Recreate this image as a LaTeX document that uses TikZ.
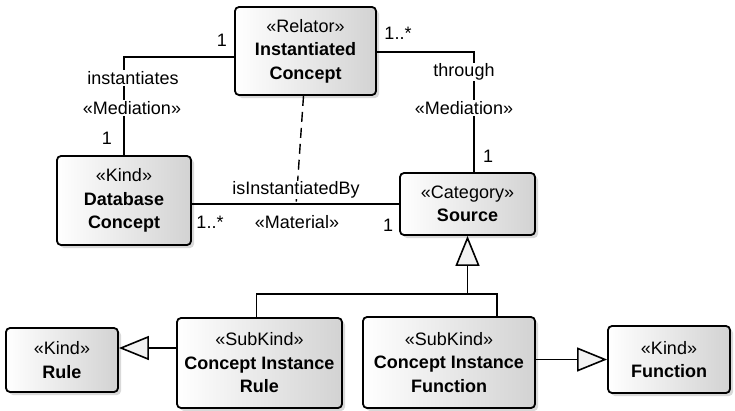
\documentclass[tikz,border=0pt]{standalone}
\usepackage{fontspec}
\setmainfont{Liberation Sans}
\usetikzlibrary{arrows.meta, shadows, positioning}

\begin{document}
\begin{tikzpicture}[x=1pt, y=-1pt, line width=1.6pt,
		every node/.style={font=\fontsize{18}{23.5}\selectfont},
		umlclass/.style={draw, line width=1.8pt, rounded corners=4pt, align=center, inner sep=1pt,
			left color=white, right color=gray!35,
			drop shadow={opacity=0.3, shadow xshift=3pt, shadow yshift=-3pt}},
		tag/.style={fill=white, inner sep=1pt},
		gen/.style={-{Triangle[length=30pt, width=24pt, fill=gray!10]}}]
		\useasboundingbox (0,0) rectangle (735,410);
		
		\node[umlclass, minimum width=141pt, minimum height=88pt] (relator) at (305.5,51) {«Relator»\\\textbf{Instantiated}\\\textbf{Concept}};
		\node[umlclass, minimum width=134pt, minimum height=89pt] (dbconcept) at (124,200.5) {«Kind»\\\textbf{Database}\\\textbf{Concept}};
		\node[umlclass, minimum width=135pt, minimum height=62pt] (source) at (467.5,204) {«Category»\\\textbf{Source}};
		\node[umlclass, minimum width=112pt, minimum height=64pt] (rule) at (62,360) {«Kind»\\\textbf{Rule}};
		\node[umlclass, minimum width=165pt, minimum height=90pt] (cirule) at (259.5,363) {«SubKind»\\\textbf{Concept Instance}\\\textbf{Rule}};
		\node[umlclass, minimum width=172pt, minimum height=91pt] (cifunc) at (449,362.5) {«SubKind»\\\textbf{Concept Instance}\\\textbf{Function}};
		\node[umlclass, minimum width=122pt, minimum height=67pt] (function) at (669,359.5) {«Kind»\\\textbf{Function}};
		
		% mediations
		\draw ([yshift=-6pt]relator.west) -| (dbconcept.north);
		\draw ([yshift=-1pt]relator.east) -| ([xshift=6.5pt]source.north);
		\node[tag] (instantiates) at (133,78) {instantiates};
		\node[tag] (medleft) at (132,108) {«Mediation»};
		\node (multrel) at (222,40) {1};
		\node (multdb) at (107,138) {1};
		\node[tag] (through) at (464,72) {through};
		\node[tag] (medright) at (464,108) {«Mediation»};
		\node (multrelr) at (398,33) {1..*};
		\node (multsrc) at (488,156) {1};
		
		% material
		\draw (dbconcept.east |- source.west) -- (source.west);
		\coordinate (isby) at ([xshift=-103pt]source.west);
		\draw[dash pattern=on 10pt off 6pt, line width=1.4pt] ([xshift=-2pt]relator.south) -- (isby);
		\node[tag] (isinst) at (296,190) {isInstantiatedBy};
		\node (material) at (297,222) {«Material»};
		\node (multdbm) at (210,222) {1..*};
		\node (multsrcm) at (388,225) {1};
		
		% generalizations
		\coordinate (gjoin) at ([yshift=-58pt]source.south);
		\draw ([xshift=-3pt]cirule.north) |- (gjoin);
		\draw ([xshift=48pt]cifunc.north) |- (gjoin);
		\draw[gen] (gjoin) -- (source.south);
		\coordinate (rulein) at ([yshift=12pt]rule.east);
		\draw[gen] (cirule.west |- rulein) -- (rulein);
		\draw[gen] (cifunc.east |- function.west) -- (function.west);
		
\end{tikzpicture}
\end{document}
